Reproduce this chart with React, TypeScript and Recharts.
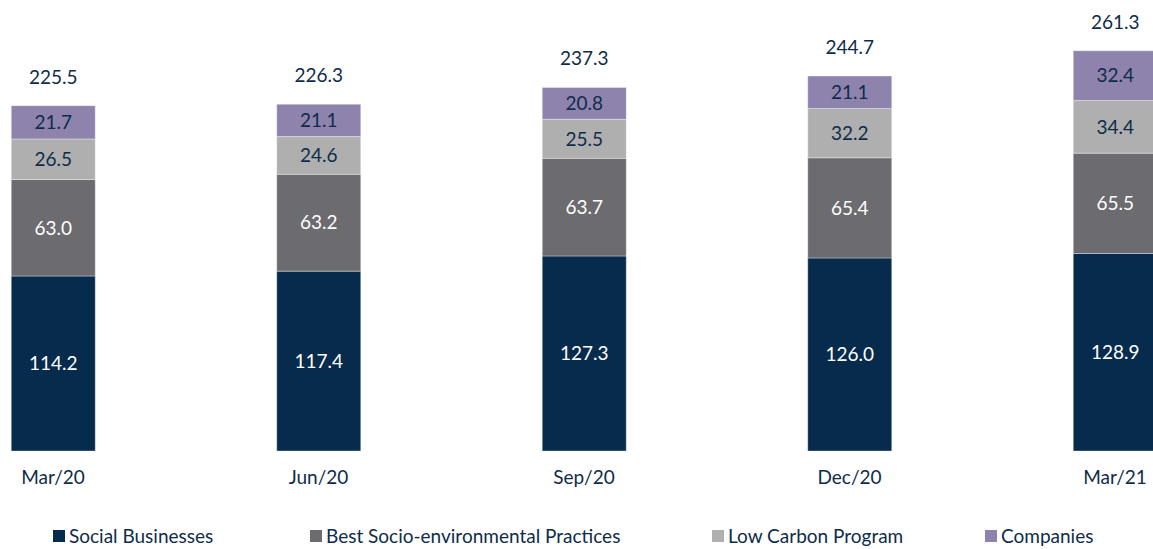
import React from 'react';
import { BarChart, Bar, XAxis, YAxis, LabelList } from 'recharts';

const periods = ['Mar/20', 'Jun/20', 'Sep/20', 'Dec/20', 'Mar/21'];
const socialBusinesses = [114.2, 117.4, 127.3, 126.0, 128.9];
const bestPractices = [63.0, 63.2, 63.7, 65.4, 65.5];
const lowCarbon = [26.5, 24.6, 25.5, 32.2, 34.4];
const companies = [21.7, 21.1, 20.8, 21.1, 32.4];
const totals = [225.5, 226.3, 237.3, 244.7, 261.3];

const series = [
    { key: 'social', name: 'Social Businesses', color: '#062B4C', text: '#ffffff' },
    { key: 'best', name: 'Best Socio-environmental Practices', color: '#6C6B6F', text: '#ffffff' },
    { key: 'low', name: 'Low Carbon Program', color: '#AFAFAF', text: '#0E2C4A' },
    { key: 'comp', name: 'Companies', color: '#8E83AC', text: '#0E2C4A' },
];

const data = periods.map((p, i) => ({
    idx: i,
    period: p,
    social: socialBusinesses[i],
    best: bestPractices[i],
    low: lowCarbon[i],
    comp: companies[i],
    total: totals[i],
}));

const legendLeft = [53, 310, 712, 985];
const navy = '#0E2C4A';
const fmt = (v: any) => Number(v).toFixed(1);

const App: React.FC = () => {
    return (
        <div style={{ position: 'absolute', left: 0, top: 0, width: 1153, height: 549, fontFamily: 'Lato, "Open Sans", sans-serif', overflow: 'hidden' }}>
            <BarChart width={1153} height={549} data={data} margin={{ top: 22, right: 38, bottom: 58, left: 53 }}>
                <XAxis
                    dataKey="idx"
                    type="number"
                    domain={[0, 4]}
                    ticks={[0, 1, 2, 3, 4]}
                    tickFormatter={(v: number) => periods[v]}
                    axisLine={false}
                    tickLine={false}
                    tickMargin={14}
                    height={40}
                    tick={{ fill: navy, fontSize: 19 }}
                />
                <YAxis hide domain={[0, 280]} />
                {series.map((s, si) => (
                    <Bar key={s.key} dataKey={s.key} stackId="a" fill={s.color} barSize={84} isAnimationActive={false}
                        stroke="#ffffff" strokeOpacity={0.35} strokeWidth={1}>
                        <LabelList dataKey={s.key} position="center" fill={s.text} fontSize={19} formatter={fmt} />
                        {si === series.length - 1 && (
                            <LabelList dataKey="total" position="top" offset={22} fill={navy} fontSize={19} formatter={fmt} />
                        )}
                    </Bar>
                ))}
            </BarChart>
            {series.map((s, i) => (
                <div key={s.key} style={{ position: 'absolute', left: legendLeft[i], top: 525, height: 22, lineHeight: '22px', display: 'flex', alignItems: 'center', color: navy, fontSize: 19, whiteSpace: 'nowrap' }}>
                    <span style={{ display: 'inline-block', width: 12, height: 12, background: s.color, marginRight: 4 }} />
                    <span>{s.name}</span>
                </div>
            ))}
        </div>
    );
};

export default App;
